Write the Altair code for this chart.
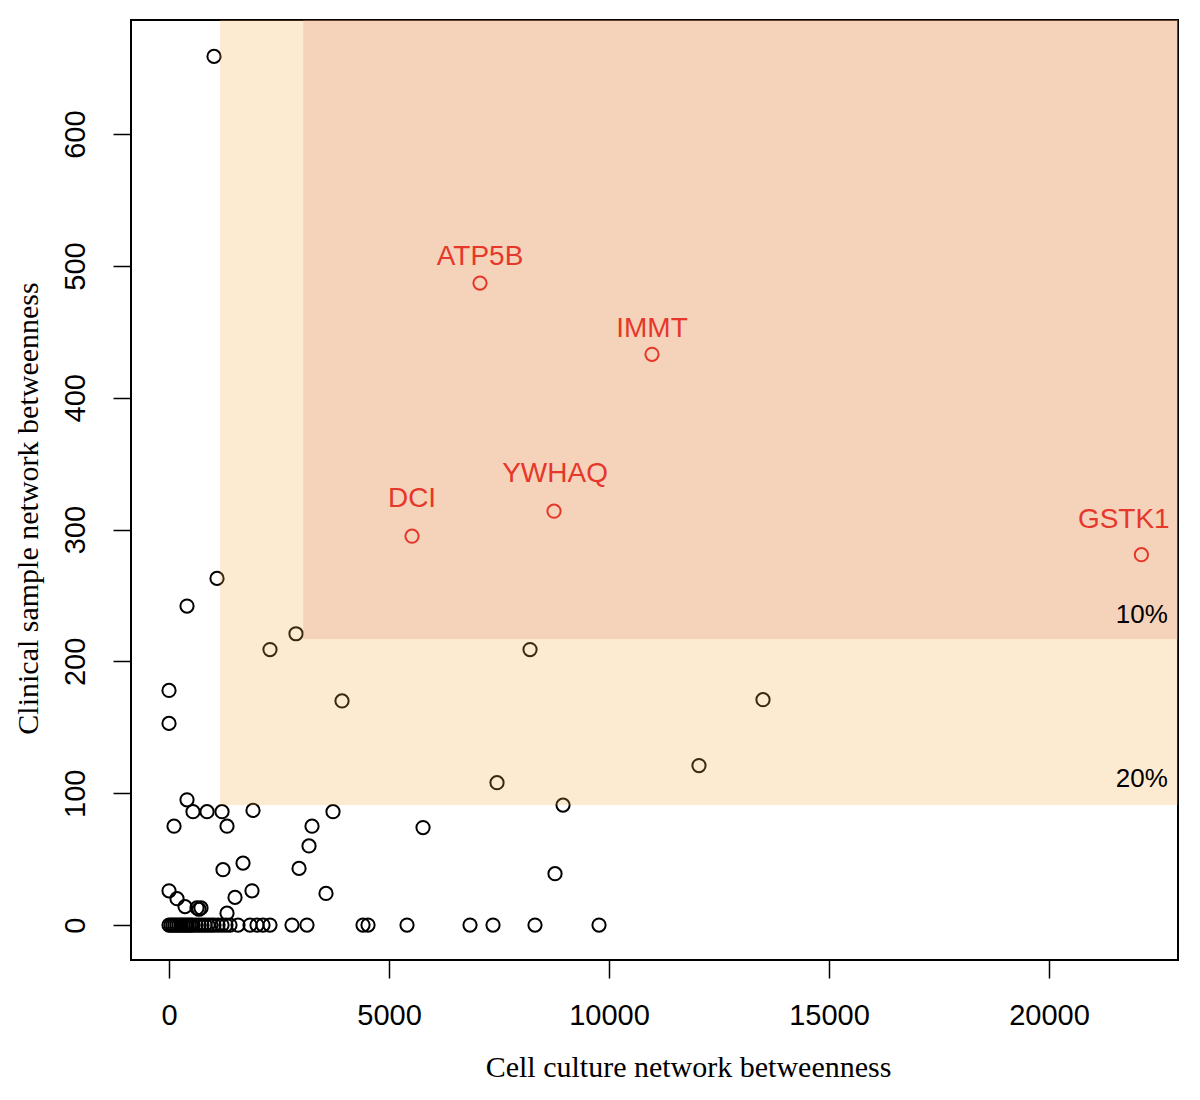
import altair as alt
import pandas as pd

# ---- data ----
black_x = [1023, 1091, 409, 2886, 2295, 8205, 0, 3932, 13500, 0, 12045, 7455, 409, 8955,
           545, 864, 1205, 1909, 3727, 114, 1318, 3250, 5773, 3182, 2955, 1682, 1227, 8773,
           0, 1886, 3568, 1500, 182, 364, 636, 682, 727, 1318,
           0, 45, 91, 136, 182, 227, 273, 318, 364, 409, 455, 500, 545, 614, 682, 750, 818,
           886, 955, 1023, 1114, 1205, 1295, 1386, 1568, 1841, 2000, 2136, 2295, 2795, 3136,
           4409, 4523, 5409, 6841, 7364, 8318, 9773]
black_y = [659, 263, 242, 221, 209, 209, 178, 170, 171, 153, 121, 108, 95, 91,
           86, 86, 86, 87, 86, 75, 75, 75, 74, 60, 43, 47, 42, 39,
           26, 26, 24, 21, 20, 14, 13, 12, 13, 9,
           0, 0, 0, 0, 0, 0, 0, 0, 0, 0, 0, 0, 0, 0, 0, 0, 0,
           0, 0, 0, 0, 0, 0, 0, 0, 0, 0, 0, 0, 0, 0,
           0, 0, 0, 0, 0, 0, 0]

genes = ["ATP5B", "IMMT", "YWHAQ", "DCI", "GSTK1"]
gene_x = [7068, 10977, 8750, 5523, 22100]
gene_y = [487, 433, 314, 295, 281]
label_x = [7068, 10977, 8773, 5523, 21700]
label_y = [501, 446, 336, 317, 301]

pct_text = ["10%", "20%"]
pct_x = [22700, 22700]
pct_y = [229, 105]

cut_x = [3050, 1160]   # 10%, 20%
cut_y = [217, 91]

x_ticks = [0, 5000, 10000, 15000, 20000]
y_ticks = [0, 100, 200, 300, 400, 500, 600]
XDOM = [-864, 22932]
YDOM = [-26.5, 686.6]

black = pd.DataFrame({"x": black_x, "y": black_y})
red = pd.DataFrame({"gene": genes, "x": gene_x, "y": gene_y, "lx": label_x, "ly": label_y})
pct = pd.DataFrame({"t": pct_text, "x": pct_x, "y": pct_y})
light = pd.DataFrame({"x": [cut_x[1]], "x2": [XDOM[1]], "y": [cut_y[1]], "y2": [YDOM[1]]})
dark = pd.DataFrame({"x": [cut_x[0]], "x2": [XDOM[1]], "y": [cut_y[0]], "y2": [YDOM[1]]})

xs = alt.Scale(domain=XDOM, nice=False, zero=False)
ys = alt.Scale(domain=YDOM, nice=False, zero=False)

XT = "Cell culture network betweenness"
YT = "Clinical sample network betweenness"

x_axis = alt.Axis(values=x_ticks, format="d", tickSize=18, tickWidth=1.5, tickColor="black",
                  domain=False, grid=False, labelFont="Liberation Sans", labelFontSize=29,
                  labelColor="black", labelPadding=23, labelFlush=False, labelOverlap=False,
                  titleFont="Liberation Serif",
                  titleFontSize=30, titleFontWeight="normal", titleColor="black",
                  titlePadding=22, titleX=557)
y_axis = alt.Axis(values=y_ticks, format="d", tickSize=18, tickWidth=1.5, tickColor="black",
                  domain=False, grid=False, labelFont="Liberation Sans", labelFontSize=29,
                  labelColor="black", labelPadding=23, labelAngle=-90, labelAlign="center",
                  labelBaseline="bottom", labelFlush=False, labelOverlap=False,
                  titleFont="Liberation Serif",
                  titleFontSize=30, titleFontWeight="normal", titleColor="black",
                  titlePadding=18, titleY=488)


def X(field):
    return alt.X(field, type="quantitative", scale=xs, axis=x_axis, title=XT)


def Y(field):
    return alt.Y(field, type="quantitative", scale=ys, axis=y_axis, title=YT)


pts = alt.Chart(black).mark_point(shape="circle", filled=False, color="black",
                                  size=175, strokeWidth=2, opacity=1).encode(
    x=X("x"), y=Y("y"))

light_rect = alt.Chart(light).mark_rect(color="#F7AD3E", opacity=0.24).encode(
    x=X("x"), x2="x2:Q", y=Y("y"), y2="y2:Q")
dark_rect = alt.Chart(dark).mark_rect(color="#E18778", opacity=0.25).encode(
    x=X("x"), x2="x2:Q", y=Y("y"), y2="y2:Q")

red_pts = alt.Chart(red).mark_point(shape="circle", filled=False, color="#E5382A",
                                    size=175, strokeWidth=2, opacity=1).encode(
    x=X("x"), y=Y("y"))

red_txt = alt.Chart(red).mark_text(font="Liberation Sans", fontSize=28, color="#E5382A",
                                   align="center", baseline="alphabetic").encode(
    x=X("lx"), y=Y("ly"), text="gene:N")

pct_txt = alt.Chart(pct).mark_text(font="Liberation Sans", fontSize=26, color="black",
                                   align="right", baseline="alphabetic").encode(
    x=X("x"), y=Y("y"), text="t:N")

chart = alt.layer(pts, light_rect, dark_rect, red_pts, red_txt, pct_txt).properties(
    width=1047, height=940,
    autosize=alt.AutoSizeParams(type="none"),
    padding={"left": 123, "top": 12, "right": 12, "bottom": 130},
    background="white",
).configure_view(stroke="black", strokeWidth=2)

chart.save("out.html", embed_options={"renderer": "svg", "actions": False})
